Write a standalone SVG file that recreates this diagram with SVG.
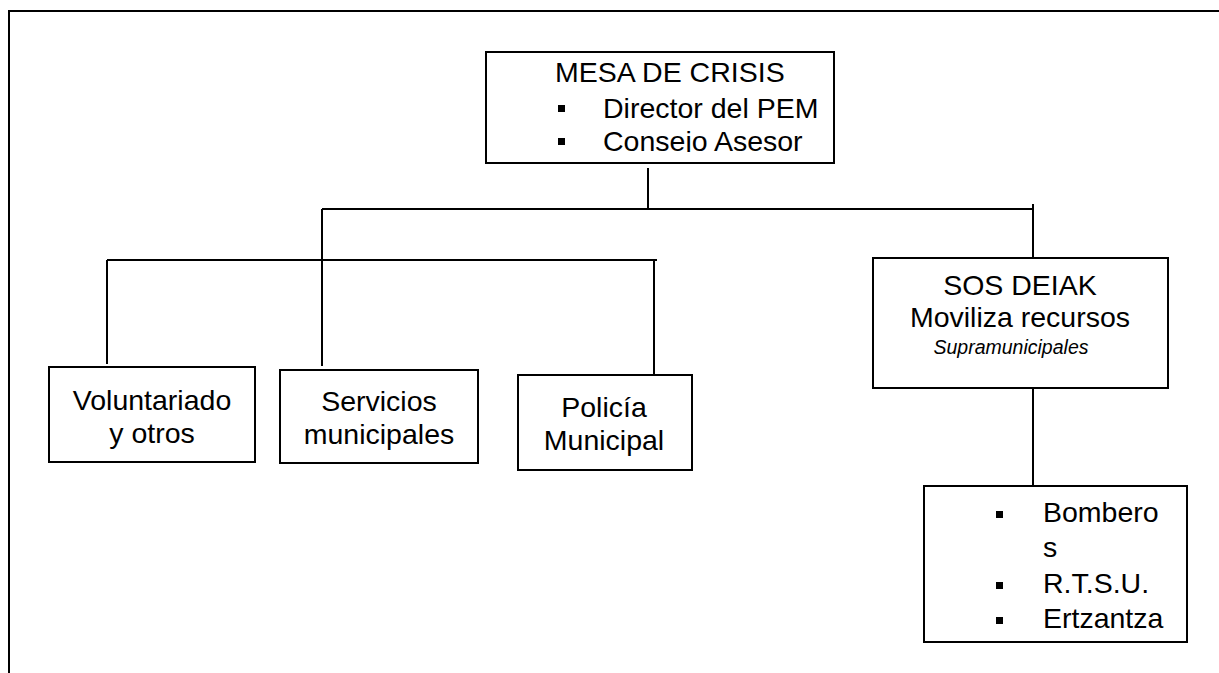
<svg xmlns="http://www.w3.org/2000/svg" width="1219" height="673" viewBox="0 0 1219 673">
<style>
.box{fill:#fff;stroke:#000;stroke-width:2}
.ln{fill:none;stroke:#000;stroke-width:2}
.t{font-family:"Liberation Sans",Arial,sans-serif;font-size:28.5px;fill:#000}
.c{text-anchor:middle}
.i{font-style:italic;font-size:19.5px}
.b{fill:#000}
</style>
<defs>
<clipPath id="mesaClip"><rect x="486" y="52" width="348" height="100"/></clipPath>
</defs>
<rect width="1219" height="673" fill="#fff"/>
<g id="frame"><path class="ln" d="M9,673 V11 H1219"/></g>
<g id="connectors">
<path class="ln" d="M648,168 V209"/>
<path class="ln" d="M322,209 H1033"/>
<path class="ln" d="M322,209 V366"/>
<path class="ln" d="M1033,204 V258"/>
<path class="ln" d="M107,260 H657"/>
<path class="ln" d="M107,260 V364"/>
<path class="ln" d="M654,260 V375"/>
<path class="ln" d="M1033,388 V486"/>
</g>
<g id="mesa">
<rect class="box" x="486" y="52" width="348" height="111"/>
<g clip-path="url(#mesaClip)">
<text class="t" x="555" y="82">MESA DE CRISIS</text>
<rect class="b" x="558" y="105" width="7" height="7"/>
<text class="t" x="603" y="118">Director del PEM</text>
<rect class="b" x="558" y="138" width="7" height="7"/>
<text class="t" x="603" y="151">Consejo Asesor</text>
</g>
</g>
<g id="voluntariado">
<rect class="box" x="49" y="367" width="206" height="95"/>
<text class="t c" x="152" y="410">Voluntariado</text>
<text class="t c" x="152" y="443">y otros</text>
</g>
<g id="servicios">
<rect class="box" x="280" y="370" width="198" height="93"/>
<text class="t c" x="379" y="411">Servicios</text>
<text class="t c" x="379" y="444">municipales</text>
</g>
<g id="policia">
<rect class="box" x="518" y="375" width="174" height="95"/>
<text class="t c" x="604" y="417">Policía</text>
<text class="t c" x="604" y="450">Municipal</text>
</g>
<g id="sosdeiak">
<rect class="box" x="873" y="258" width="295" height="130"/>
<text class="t c" x="1020" y="295">SOS DEIAK</text>
<text class="t c" x="1020" y="327">Moviliza recursos</text>
<text class="t i c" x="1011" y="354">Supramunicipales</text>
</g>
<g id="recursos">
<rect class="box" x="924" y="486" width="263" height="156"/>
<rect class="b" x="996" y="511" width="7" height="7"/>
<text class="t" x="1043" y="522">Bombero</text>
<text class="t" x="1043" y="557">s</text>
<rect class="b" x="996" y="582" width="7" height="7"/>
<text class="t" x="1043" y="593">R.T.S.U.</text>
<rect class="b" x="996" y="617" width="7" height="7"/>
<text class="t" x="1043" y="628">Ertzantza</text>
</g>
</svg>
